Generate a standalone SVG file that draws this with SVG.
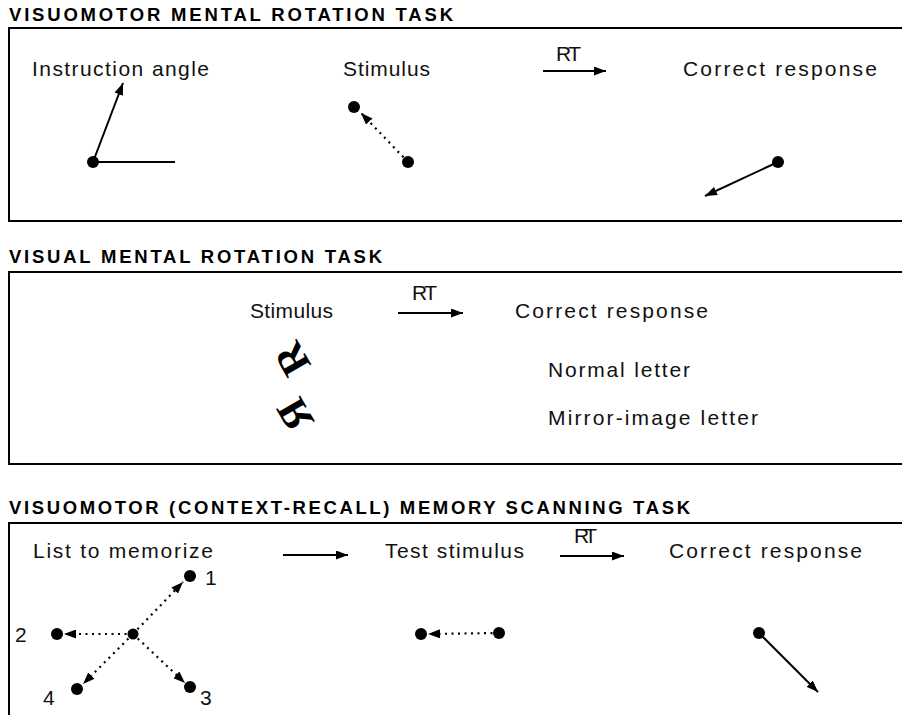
<svg xmlns="http://www.w3.org/2000/svg" width="902" height="715" viewBox="0 0 902 715">
<style>
.bg{fill:#fff}
.frame{fill:none;stroke:#000;stroke-width:2}
.title{font-family:"Liberation Sans",Arial,sans-serif;font-weight:bold;font-size:18.5px;fill:#000}
.lbl{font-family:"Liberation Sans",Arial,sans-serif;font-size:21px;fill:#111}
.dot{fill:#000}
.solid{fill:none;stroke:#000;stroke-width:2;marker-end:url(#ah)}
.plain{fill:none;stroke:#000;stroke-width:2}
.dotted{fill:none;stroke:#000;stroke-width:2.2;stroke-dasharray:2 4.5;marker-end:url(#ah)}
.letter{font-family:"Liberation Serif","Times New Roman",serif;font-weight:bold;font-size:42px;fill:#000}
</style>
<defs>
<marker id="ah" markerUnits="userSpaceOnUse" markerWidth="13" markerHeight="9" refX="12" refY="4.5" orient="auto">
<path d="M0,0 L12,4.5 L0,9 z" fill="#000"/>
</marker>
</defs>
<rect class="bg" x="0" y="0" width="902" height="715"/>

<g id="panel-visuomotor-rotation">
<text class="title" x="9" y="21" textLength="444" lengthAdjust="spacing">VISUOMOTOR MENTAL ROTATION TASK</text>
<path class="frame" d="M902,28 H9 V221 H902"/>
<g id="vm-instruction">
<text class="lbl" x="32" y="76" textLength="177" lengthAdjust="spacing">Instruction angle</text>
<circle class="dot" cx="93" cy="162" r="6"/>
</g>
<g id="vm-stimulus">
<text class="lbl" x="343" y="76" textLength="87" lengthAdjust="spacing">Stimulus</text>
<circle class="dot" cx="354" cy="107" r="6"/>
<circle class="dot" cx="408" cy="162" r="6"/>
</g>
<g id="vm-rt">
<text class="lbl" x="556" y="61" textLength="25" lengthAdjust="spacing">RT</text>
</g>
<g id="vm-response">
<text class="lbl" x="683" y="76" textLength="194" lengthAdjust="spacing">Correct response</text>
<circle class="dot" cx="778" cy="162" r="6"/>
</g>
</g>

<g id="panel-visual-rotation">
<text class="title" x="9" y="263" textLength="373" lengthAdjust="spacing">VISUAL MENTAL ROTATION TASK</text>
<path class="frame" d="M902,272 H9 V464 H902"/>
<g id="v-stimulus">
<text class="lbl" x="250" y="318" textLength="83" lengthAdjust="spacing">Stimulus</text>
<text class="letter" transform="translate(292,359) rotate(-120)" x="0" y="14" text-anchor="middle">R</text>
<text class="letter" transform="translate(295,415) rotate(-120) scale(-1,1)" x="0" y="14" text-anchor="middle">R</text>
</g>
<g id="v-rt">
<text class="lbl" x="412" y="300" textLength="25" lengthAdjust="spacing">RT</text>
</g>
<g id="v-response">
<text class="lbl" x="515" y="318" textLength="193" lengthAdjust="spacing">Correct response</text>
<text class="lbl" x="548" y="377" textLength="142" lengthAdjust="spacing">Normal letter</text>
<text class="lbl" x="548" y="425" textLength="210" lengthAdjust="spacing">Mirror-image letter</text>
</g>
</g>

<g id="panel-memory-scanning">
<text class="title" x="9" y="514" textLength="681" lengthAdjust="spacing">VISUOMOTOR (CONTEXT-RECALL) MEMORY SCANNING TASK</text>
<path class="frame" d="M902,523 H9 V715"/>
<g id="ms-list">
<text class="lbl" x="33" y="558" textLength="180" lengthAdjust="spacing">List to memorize</text>
<circle class="dot" cx="133" cy="634" r="5.5"/>
<circle class="dot" cx="190" cy="576" r="6"/>
<circle class="dot" cx="57" cy="634" r="6"/>
<circle class="dot" cx="77" cy="689" r="6"/>
<circle class="dot" cx="190" cy="687" r="6"/>
<text class="lbl" x="205" y="585">1</text>
<text class="lbl" x="15" y="642">2</text>
<text class="lbl" x="200" y="705">3</text>
<text class="lbl" x="43" y="705">4</text>
</g>
<g id="ms-test">
<text class="lbl" x="385" y="558" textLength="139" lengthAdjust="spacing">Test stimulus</text>
<circle class="dot" cx="421" cy="634" r="6"/>
<circle class="dot" cx="499" cy="633" r="6"/>
</g>
<g id="ms-rt">
<text class="lbl" x="574" y="543" textLength="23" lengthAdjust="spacing">RT</text>
</g>
<g id="ms-response">
<text class="lbl" x="669" y="558" textLength="193" lengthAdjust="spacing">Correct response</text>
<circle class="dot" cx="759" cy="633" r="6"/>
</g>
</g>

<g id="connectors">
<line class="plain" x1="93" y1="162" x2="175" y2="162"/>
<line class="solid" x1="93" y1="162" x2="123" y2="83"/>
<line class="dotted" x1="408" y1="162" x2="361" y2="113"/>
<line class="solid" x1="543" y1="71" x2="606" y2="71"/>
<line class="solid" x1="778" y1="162" x2="705" y2="196"/>
<line class="solid" x1="398" y1="313" x2="463" y2="313"/>
<line class="dotted" x1="133" y1="634" x2="183" y2="582"/>
<line class="dotted" x1="133" y1="634" x2="64" y2="634"/>
<line class="dotted" x1="133" y1="634" x2="83" y2="684"/>
<line class="dotted" x1="133" y1="634" x2="185" y2="683"/>
<line class="solid" x1="283" y1="555" x2="348" y2="555"/>
<line class="solid" x1="560" y1="556" x2="624" y2="556"/>
<line class="dotted" x1="499" y1="633" x2="428" y2="634"/>
<line class="solid" x1="759" y1="633" x2="818" y2="692"/>
</g>
</svg>
